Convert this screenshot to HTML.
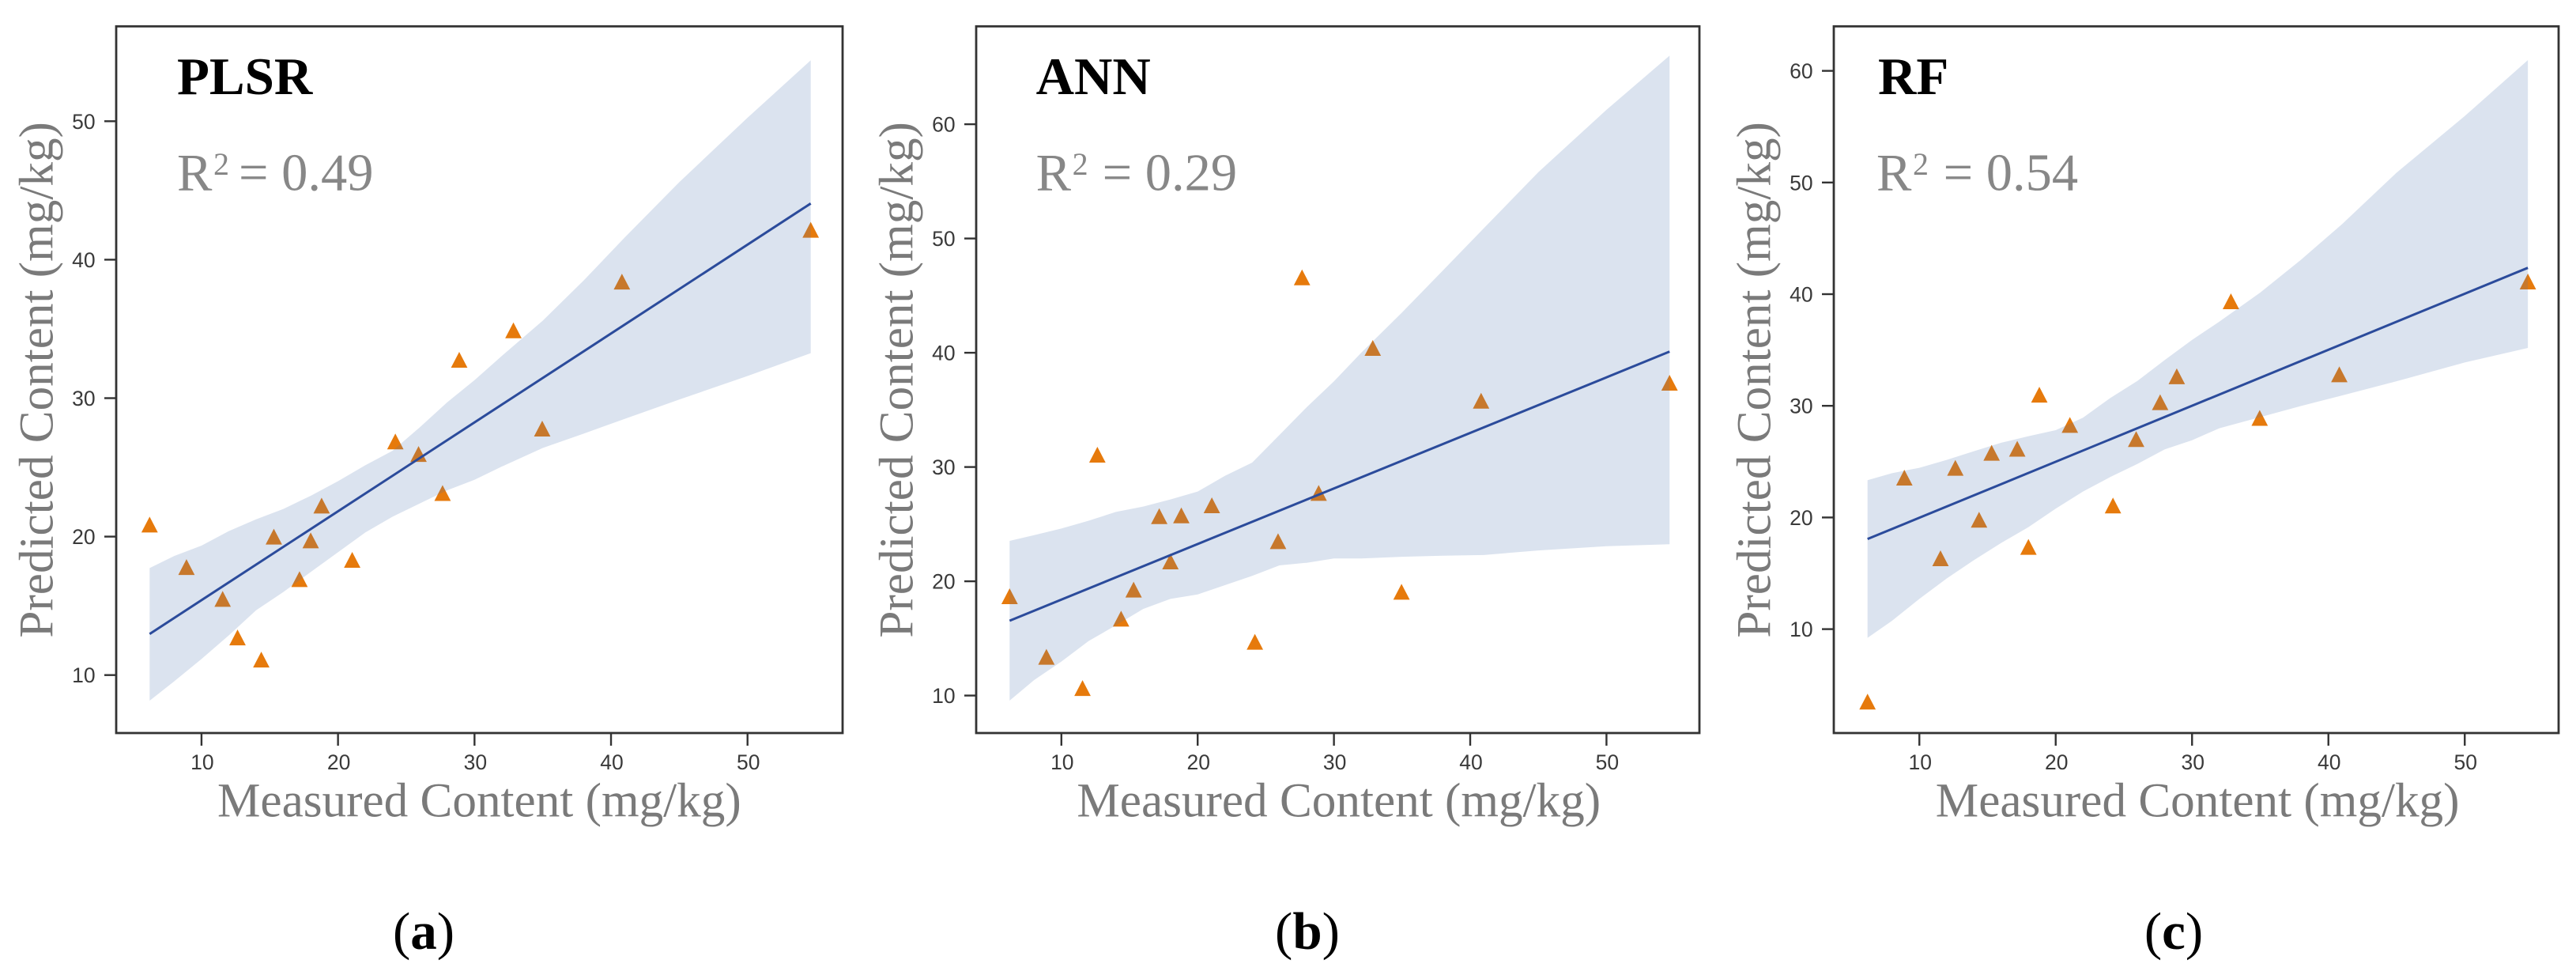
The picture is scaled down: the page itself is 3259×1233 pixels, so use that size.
<!DOCTYPE html>
<html lang="en">
<head>
<meta charset="utf-8">
<title>Measured vs predicted content: PLSR, ANN, RF</title>
<style>
  html, body { margin: 0; padding: 0; background: #fff; }
  svg { display: block; }
  .spine { fill: none; stroke: #333; stroke-width: 2.8; }
  .axis-label { font-family: "Liberation Serif", serif; font-size: 61.2px; fill: #7a7a7a; }
  .model { font-family: "Liberation Serif", serif; font-size: 67px; font-weight: bold; fill: #000; }
  .r2 { font-family: "Liberation Serif", serif; font-size: 66.5px; fill: #878787; }
  .r2 .sup { font-size: 40px; }
  .caption { font-family: "Liberation Serif", serif; font-size: 67px; fill: #000; }
  .caption .letter { font-weight: bold; }
  .tick-label { font-family: "Liberation Sans", sans-serif; font-size: 26.5px; fill: #3a3a3a; }
</style>
</head>
<body>
<svg id="figure" xmlns="http://www.w3.org/2000/svg" width="3259" height="1233" viewBox="0 0 3259 1233">
  <rect x="0" y="0" width="3259" height="1233" fill="#fff"/>

  <g id="panel-a">
    <g id="marks-a"></g>
    <rect class="spine" x="147" y="33.3" width="919" height="893.7"/>
    <g id="ticks-a"></g>
    <text class="model" x="224" y="119">PLSR</text>
    <text class="r2" y="240.7"><tspan x="224">R</tspan><tspan class="sup" x="270" y="221">2</tspan><tspan x="302" y="240.7">= 0.49</tspan></text>
    <text class="axis-label" x="275" y="1032.7">Measured Content (mg/kg)</text>
    <text class="axis-label" transform="translate(66.5 806.6) rotate(-90)">Predicted Content (mg/kg)</text>
    <text class="caption" x="536" y="1200" text-anchor="middle">(<tspan class="letter">a</tspan>)</text>
  </g>

  <g id="panel-b">
    <g id="marks-b"></g>
    <rect class="spine" x="1235" y="33.3" width="915" height="893.7"/>
    <g id="ticks-b"></g>
    <text class="model" x="1310.6" y="119">ANN</text>
    <text class="r2" y="240.7"><tspan x="1310.6">R</tspan><tspan class="sup" x="1356.6" y="221">2</tspan><tspan x="1394.6" y="240.7">= 0.29</tspan></text>
    <text class="axis-label" x="1362.4" y="1032.7">Measured Content (mg/kg)</text>
    <text class="axis-label" transform="translate(1154.5 806.6) rotate(-90)">Predicted Content (mg/kg)</text>
    <text class="caption" x="1654" y="1200" text-anchor="middle">(<tspan class="letter">b</tspan>)</text>
  </g>

  <g id="panel-c">
    <g id="marks-c"></g>
    <rect class="spine" x="2320" y="33.3" width="917" height="893.7"/>
    <g id="ticks-c"></g>
    <text class="model" x="2376" y="119">RF</text>
    <text class="r2" y="240.7"><tspan x="2374">R</tspan><tspan class="sup" x="2420" y="221">2</tspan><tspan x="2458.6" y="240.7">= 0.54</tspan></text>
    <text class="axis-label" x="2448.8" y="1032.7">Measured Content (mg/kg)</text>
    <text class="axis-label" transform="translate(2239.5 806.6) rotate(-90)">Predicted Content (mg/kg)</text>
    <text class="caption" x="2750" y="1200" text-anchor="middle">(<tspan class="letter">c</tspan>)</text>
  </g>
</svg>

<script>
// ---- chart data ----
const measured = [6.2, 8.9, 11.55, 12.64, 14.38, 15.3, 17.18, 18.0, 18.8, 21.04, 24.2, 25.9, 27.66, 28.88, 32.85, 34.96, 40.8, 54.63];
const plsrPredicted = [20.87, 17.8, 15.5, 12.72, 11.12, 20.0, 16.93, 19.73, 22.24, 18.32, 26.87, 25.97, 23.15, 32.77, 34.9, 27.8, 38.42, 42.16];
const annPredicted = [18.69, 13.39, 10.66, 31.08, 16.73, 19.27, 25.7, 21.74, 25.77, 26.65, 14.7, 23.51, 46.6, 27.73, 40.42, 19.08, 35.8, 37.38];
const rfPredicted = [3.51, 23.57, 16.35, 24.45, 19.8, 25.79, 26.15, 17.36, 31.0, 28.29, 21.07, 27.02, 30.32, 32.64, 39.36, 28.92, 32.82, 41.13];

const fitX = [6.2, 54.63];
const plsrFit = [12.97, 44.06];
const annFit = [16.55, 40.1];
const rfFit = [18.07, 42.36];

const bandX = [6.2, 8, 10, 12, 14, 16, 18, 20, 22, 24, 26, 28, 30, 32, 35, 38, 41, 45, 50, 54.63];
const plsrUpper = [17.73, 18.6, 19.35, 20.4, 21.25, 22.0, 22.95, 24.0, 25.15, 26.2, 27.9, 29.7, 31.3, 33.05, 35.6, 38.5, 41.6, 45.6, 50.25, 54.4];
const plsrLower = [8.15, 9.55, 11.16, 12.87, 14.68, 16.0, 17.44, 18.87, 20.3, 21.44, 22.4, 23.35, 24.1, 25.06, 26.4, 27.44, 28.5, 29.9, 31.6, 33.25];
const annUpper = [23.54, 24.04, 24.62, 25.3, 26.07, 26.54, 27.16, 27.85, 29.23, 30.39, 32.8, 35.23, 37.5, 40.0, 43.53, 47.2, 50.9, 55.8, 61.26, 66.0];
const annLower = [9.56, 11.36, 12.97, 14.77, 16.15, 17.58, 18.46, 18.85, 19.66, 20.47, 21.39, 21.62, 22.0, 22.0, 22.14, 22.24, 22.3, 22.7, 23.07, 23.24];
const rfUpper = [23.34, 23.97, 24.45, 25.15, 25.93, 26.69, 27.28, 27.82, 28.93, 30.7, 32.24, 34.1, 35.9, 37.54, 40.14, 43.09, 46.27, 50.88, 55.95, 60.96];
const rfLower = [9.22, 10.75, 12.71, 14.53, 16.18, 17.72, 19.13, 20.79, 22.32, 23.62, 24.8, 26.1, 26.92, 27.99, 28.99, 29.99, 30.93, 32.2, 33.88, 35.18];

const xTicks = [10, 20, 30, 40, 50];
const plsrYTicks = [10, 20, 30, 40, 50];
const annYTicks = [10, 20, 30, 40, 50, 60];
const rfYTicks = [10, 20, 30, 40, 50, 60];

// ---- axis functions ----
const SVGNS = 'http://www.w3.org/2000/svg';
const PANEL_BOTTOM = 927;

function axisA() { return { left: 147, x: v => 189.3 + (v - 6.2) * 17.27, y: v => 853.7 - (v - 10) * 17.51 }; }
function axisB() { return { left: 1235, x: v => 1277.3 + (v - 6.2) * 17.24, y: v => 879.6 - (v - 10) * 14.45 }; }
function axisC() { return { left: 2320, x: v => 2362.7 + (v - 6.2) * 17.25, y: v => 795.6 - (v - 10) * 14.12 }; }

function make(tag, parent) {
  const el = document.createElementNS(SVGNS, tag);
  parent.appendChild(el);
  return el;
}

function drawTicks(group, axis, yTicks, prefix) {
  xTicks.forEach(function (t) {
    const px = axis.x(t);
    const mark = make('line', group);
    
    
    mark.setAttribute('x1', px);
    mark.setAttribute('x2', px);
    mark.setAttribute('y1', PANEL_BOTTOM);
    mark.setAttribute('y2', PANEL_BOTTOM + 16);
    mark.setAttribute('stroke', '#333');
    mark.setAttribute('stroke-width', '2.4');
    const label = make('text', group);
    
    
    label.setAttribute('class', 'tick-label');
    label.setAttribute('x', px + 1);
    label.setAttribute('y', 973);
    label.setAttribute('text-anchor', 'middle');
    label.textContent = String(t);
  });
  yTicks.forEach(function (t) {
    const py = axis.y(t);
    const mark = make('line', group);
    
    
    mark.setAttribute('x1', axis.left - 15);
    mark.setAttribute('x2', axis.left);
    mark.setAttribute('y1', py);
    mark.setAttribute('y2', py);
    mark.setAttribute('stroke', '#333');
    mark.setAttribute('stroke-width', '2.4');
    const label = make('text', group);
    
    
    label.setAttribute('class', 'tick-label');
    label.setAttribute('x', axis.left - 26.4);
    label.setAttribute('y', py + 9.5);
    label.setAttribute('text-anchor', 'end');
    label.textContent = String(t);
  });
}

function drawMarks(group, axis, predicted, upper, lower, fit, prefix) {
  // points first: the translucent band tints those lying beneath it
  predicted.forEach(function (value, i) {
    const cx = axis.x(measured[i]);
    const cy = axis.y(value);
    const tri = make('path', group);
    
    
    tri.setAttribute('d', 'M' + cx + ' ' + (cy - 10) + 'L' + (cx + 10.4) + ' ' + (cy + 10) + 'L' + (cx - 10.4) + ' ' + (cy + 10) + 'Z');
    tri.setAttribute('fill', '#e67a0c');
  });

  const top = bandX.map(function (v, i) { return axis.x(v) + ',' + axis.y(upper[i]); });
  const bottom = bandX.map(function (v, i) { return axis.x(v) + ',' + axis.y(lower[i]); }).reverse();
  const band = make('polygon', group);
  
  
  band.setAttribute('points', top.concat(bottom).join(' '));
  band.setAttribute('fill', '#4c72b0');
  band.setAttribute('fill-opacity', '0.2');

  const line = make('line', group);
  
  
  line.setAttribute('x1', axis.x(fitX[0]));
  line.setAttribute('y1', axis.y(fit[0]));
  line.setAttribute('x2', axis.x(fitX[1]));
  line.setAttribute('y2', axis.y(fit[1]));
  line.setAttribute('stroke', '#2b4b9b');
  line.setAttribute('stroke-width', '3');
}

drawMarks(document.getElementById('marks-a'), axisA(), plsrPredicted, plsrUpper, plsrLower, plsrFit, 'plsr');
drawTicks(document.getElementById('ticks-a'), axisA(), plsrYTicks, 'plsr');
drawMarks(document.getElementById('marks-b'), axisB(), annPredicted, annUpper, annLower, annFit, 'ann');
drawTicks(document.getElementById('ticks-b'), axisB(), annYTicks, 'ann');
drawMarks(document.getElementById('marks-c'), axisC(), rfPredicted, rfUpper, rfLower, rfFit, 'rf');
drawTicks(document.getElementById('ticks-c'), axisC(), rfYTicks, 'rf');
</script>
</body>
</html>
